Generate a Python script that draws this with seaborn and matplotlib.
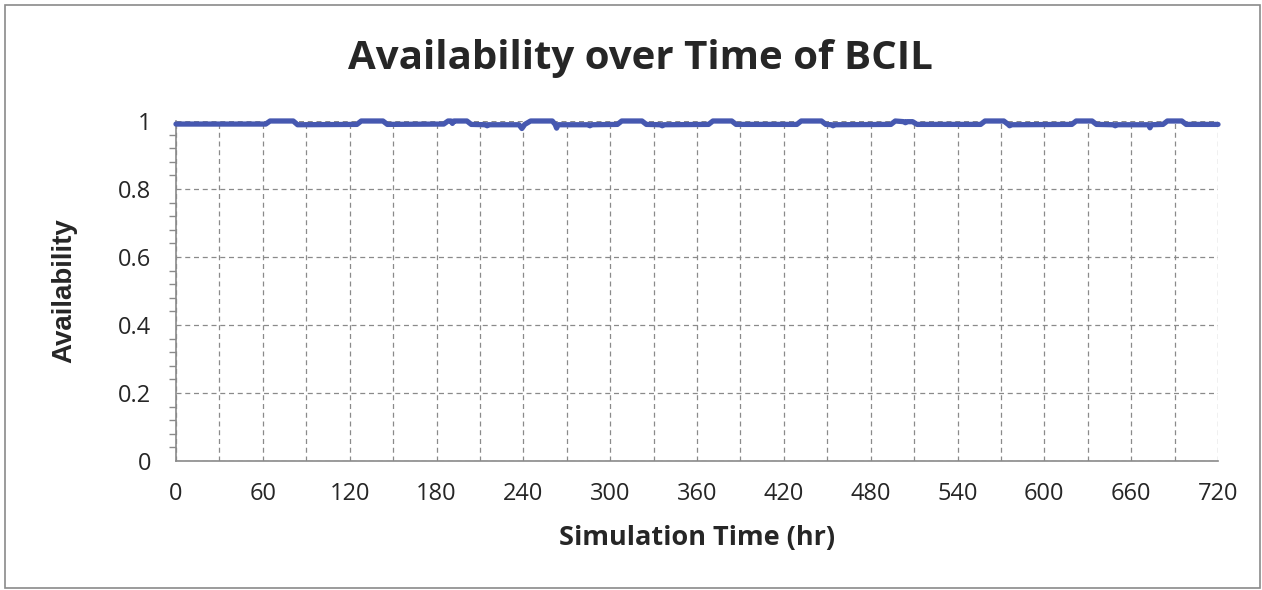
import numpy as np
import pandas as pd
import matplotlib
matplotlib.use("Agg")
import matplotlib.pyplot as plt
import seaborn as sns
from matplotlib.ticker import MultipleLocator
from matplotlib.patches import Rectangle

# ---- data (breakpoints of the availability trace) ----
time_hr = [0, 62, 65, 81, 84, 125, 128, 143, 146, 185, 188, 190, 191, 192,
           201, 204, 214, 215, 216, 237, 239, 241, 245, 260, 262, 263, 264,
           285, 286, 287, 305, 308, 322, 325, 335, 336, 337, 368, 371, 384,
           387, 429, 432, 446, 449, 453, 454, 455, 494, 497, 503, 504, 505,
           509, 512, 556, 559, 572, 575, 576, 577, 619, 622, 633, 636, 648,
           649, 650, 672, 673, 674, 682, 685, 695, 698, 720]
availability = [0.991, 0.991, 1.0, 1.0, 0.989, 0.990, 1.0, 1.0, 0.990, 0.991,
                1.0, 1.0, 0.993, 1.0,
                1.0, 0.990, 0.989, 0.986, 0.989, 0.989, 0.978, 0.990, 1.0, 1.0,
                0.990, 0.979, 0.989,
                0.989, 0.986, 0.989, 0.990, 1.0, 1.0, 0.990, 0.989, 0.986, 0.989,
                0.990, 1.0, 1.0,
                0.990, 0.990, 1.0, 1.0, 0.990, 0.989, 0.986, 0.989, 0.990, 1.0,
                0.998, 0.995, 0.998,
                0.998, 0.990, 0.990, 1.0, 1.0, 0.990, 0.986, 0.989, 0.990, 1.0,
                1.0, 0.990, 0.989,
                0.986, 0.989, 0.989, 0.980, 0.989, 0.990, 1.0, 1.0, 0.990, 0.990]

title = "Availability over Time of BCIL"
xlabel = "Simulation Time (hr)"
ylabel = "Availability"

df = pd.DataFrame({"t": time_hr, "a": availability})

sns.set_theme(style="white")
plt.rcParams["font.family"] = ["Open Sans", "DejaVu Sans"]

fig = plt.figure(figsize=(12.62, 5.90), dpi=100)
ax = fig.add_axes([176 / 1262, 1 - 461 / 590, (1218 - 176) / 1262, (461 - 121) / 590])

sns.lineplot(data=df, x="t", y="a", ax=ax, color="#4658b0", linewidth=3.8,
             solid_joinstyle="round", solid_capstyle="round", zorder=5,
             clip_on=False)

ax.set_xlim(0, 720)
ax.set_ylim(0, 1)
ax.yaxis.set_minor_locator(MultipleLocator(0.04))

xt = np.arange(0, 721, 30)
ax.set_xticks(xt)
ax.set_xticklabels([str(v) if v % 60 == 0 else "" for v in xt])
yt = np.arange(0, 1.01, 0.2)
ax.set_yticks(yt)
ax.set_yticklabels(["0", "0.2", "0.4", "0.6", "0.8", "1"])

ax.grid(True, which="major", linestyle=(0, (4, 3)), color="#8a8a8a", linewidth=0.9)
ax.tick_params(axis="x", which="major", direction="inout", length=10, width=1,
               color="#8a8a8a", labelsize=17, labelcolor="#262626", pad=10)
ax.tick_params(axis="y", which="major", direction="inout", length=10, width=1,
               color="#8a8a8a", labelsize=17, labelcolor="#262626", pad=13)
ax.tick_params(axis="y", which="minor", direction="out", length=5, width=1,
               color="#8a8a8a", left=True)

for s in ["top", "right"]:
    ax.spines[s].set_visible(False)
for s in ["left", "bottom"]:
    ax.spines[s].set_color("#8a8a8a")
    ax.spines[s].set_linewidth(1.2)

ax.set_xlabel(xlabel, fontsize=19.5, fontweight="bold", color="#262626", labelpad=14)
ax.set_ylabel(ylabel, fontsize=20, fontweight="bold", color="#262626", labelpad=29,
              family=["Liberation Sans", "DejaVu Sans"])
fig.text(640 / 1262, 1 - 58 / 590, title, ha="center", va="center",
         fontsize=29, fontweight="bold", color="#262626")

fig.patches.append(Rectangle((5 / 1262, 2 / 590), 1255 / 1262, 583 / 590,
                             transform=fig.transFigure, fill=False,
                             edgecolor="#8a8a8a", linewidth=1.2))

fig.savefig("out.png", dpi=100)
